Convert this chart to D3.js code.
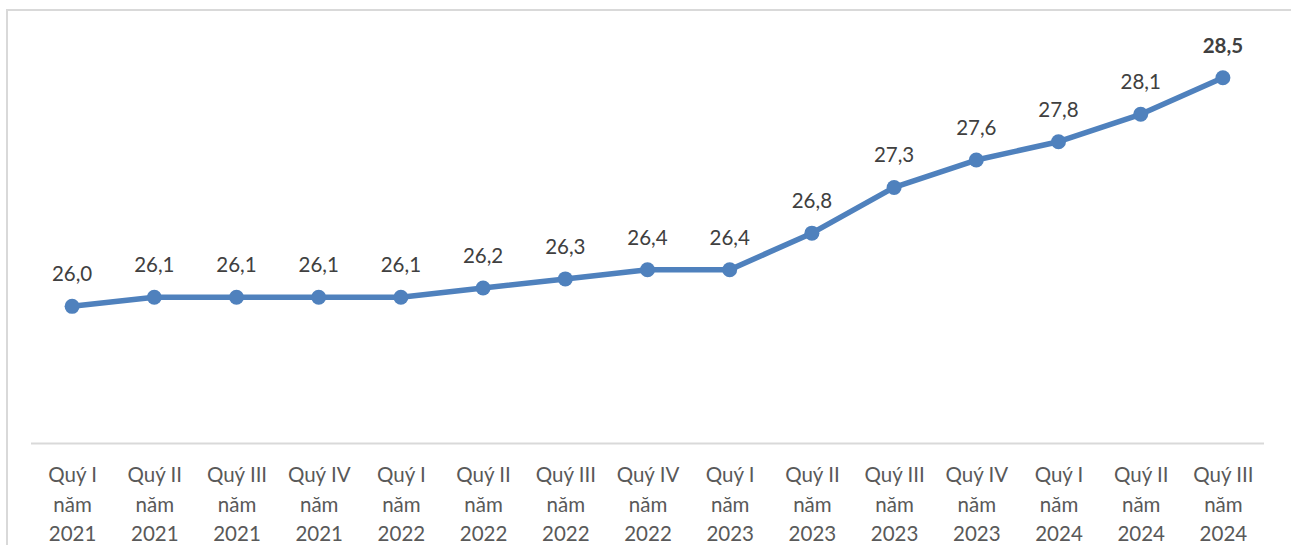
<!DOCTYPE html>
<html>
<head>
<meta charset="utf-8">
<script src="https://cdn.jsdelivr.net/npm/d3@7"></script>
<style>
  html, body { margin: 0; padding: 0; background: #ffffff; overflow: hidden; }
  svg { display: block; font-family: Lato, "Open Sans", sans-serif; }
</style>
</head>
<body>
<svg id="chart" width="1291" height="545"></svg>
<script>
// Quarterly share of trained workers holding a degree or certificate (%)
const chartTitle = "Tỷ lệ lao động qua đào tạo có bằng, chứng chỉ (%)";
const quarters = ["Quý I", "Quý II", "Quý III", "Quý IV", "Quý I", "Quý II", "Quý III", "Quý IV",
                  "Quý I", "Quý II", "Quý III", "Quý IV", "Quý I", "Quý II", "Quý III"];
const years = ["2021", "2021", "2021", "2021", "2022", "2022", "2022", "2022",
               "2023", "2023", "2023", "2023", "2024", "2024", "2024"];
const categories = quarters.map((q, i) => q + " năm " + years[i]);
const values = [26.0, 26.1, 26.1, 26.1, 26.1, 26.2, 26.3, 26.4, 26.4, 26.8, 27.3, 27.6, 27.8, 28.1, 28.5];
const yDomain = [24.5, 29];

const svg = d3.select("#chart");
const vn = d3.formatLocale({ decimal: ",", thousands: ".", grouping: [3], currency: ["", " ₫"] });
const fmt = vn.format(".1f");

const x = d3.scalePoint().domain(categories).range([31, 1264]).padding(0.5);
const y = d3.scaleLinear().domain(yDomain).range([443.5, 32]);

// chart frame
svg.append("rect")
  .attr("x", 7).attr("y", 10)
  .attr("width", 1400).attr("height", 600)
  .attr("fill", "none")
  .attr("stroke", "#d9d9d9")
  .attr("stroke-width", 2);

// title (sits above the top edge of the frame)
svg.append("text")
  .attr("x", 845).attr("y", -4)
  .attr("text-anchor", "end")
  .attr("font-size", 22)
  .attr("font-weight", "bold")
  .attr("fill", "#000000")
  .text(chartTitle);

// category axis
const axis = svg.append("g")
  .attr("transform", `translate(0,${y(yDomain[0])})`)
  .call(d3.axisBottom(x).tickSize(0).tickPadding(0).tickFormat(""));
axis.select(".domain")
  .attr("stroke", "#d9d9d9")
  .attr("stroke-width", 2)
  .attr("d", "M31,0H1264");

axis.selectAll(".tick").each(function (d) {
  const lines = d.split(" năm ");
  const parts = [lines[0], "năm", lines[1]];
  const t = d3.select(this).append("text")
    .attr("text-anchor", "middle")
    .attr("fill", "#595959")
    .attr("font-size", 20.5)
    .attr("font-family", "Lato, 'Open Sans', sans-serif");
  parts.forEach((p, i) => {
    t.append("tspan").attr("x", 0).attr("y", 38.5 + i * 29.5).text(p);
  });
});

// series line
const line = d3.line()
  .x((d, i) => x(categories[i]))
  .y(d => y(d));

svg.append("path")
  .datum(values)
  .attr("fill", "none")
  .attr("stroke", "#4f81bd")
  .attr("stroke-width", 5.5)
  .attr("stroke-linejoin", "round")
  .attr("d", line);

svg.selectAll("circle.pt")
  .data(values)
  .join("circle")
  .attr("class", "pt")
  .attr("cx", (d, i) => x(categories[i]))
  .attr("cy", d => y(d))
  .attr("r", 7.5)
  .attr("fill", "#4f81bd");

// value labels
svg.selectAll("text.val")
  .data(values)
  .join("text")
  .attr("class", "val")
  .attr("x", (d, i) => x(categories[i]))
  .attr("y", d => y(d) - 25)
  .attr("text-anchor", "middle")
  .attr("font-size", 20.5)
  .attr("fill", "#404040")
  .attr("font-weight", (d, i) => i === values.length - 1 ? "bold" : "normal")
  .text(d => fmt(d));
</script>
</body>
</html>
